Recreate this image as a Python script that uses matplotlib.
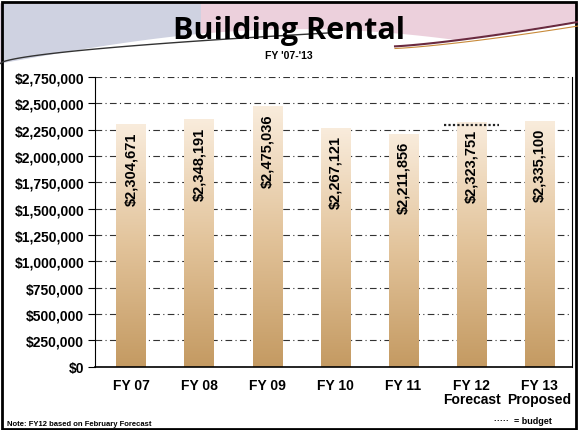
import matplotlib.pyplot as plt
import numpy as np
from matplotlib.patches import Rectangle
from matplotlib.colors import LinearSegmentedColormap

plt.rcParams['font.family'] = ['Liberation Sans', 'DejaVu Sans']

# Datos
years = ["FY 07", "FY 08", "FY 09", "FY 10", "FY 11", "FY 12\nForecast", "FY 13\nProposed"]
values = [2304671, 2348191, 2475036, 2267121, 2211856, 2323751, 2335100]
budget_fy12 = 2290000
yticks = np.arange(0, 2750001, 250000)

fig = plt.figure(figsize=(5.78, 4.31), dpi=100)

# fondo decorativo del título
bg = fig.add_axes([0, 0, 1, 1], zorder=-5)
bg.set_xlim(0, 1)
bg.set_ylim(0, 1)
bg.axis("off")
xs = np.linspace(0, 1, 200)
low_curve = 0.83 + 0.12 * xs ** 2
bg.fill_between(xs, low_curve, 0.99, color="#ecd0dc", lw=0)
bg.fill_between(xs[:70], low_curve[:70], 0.99, color="#c3d3e4", alpha=0.7, lw=0)
wave = 0.855 + 0.075 * np.sin(np.pi * (xs - 0.02))
bg.fill_between(xs, 0.82, wave, color="white", lw=0)
bg.plot(xs[:115], 0.85 + 0.10 * xs[:115] ** 0.6, color="#333333", lw=1)
bg.plot(xs[135:], 0.89 + 0.25 * (xs[135:] - 0.68) ** 1.3, color="#6a2a40", lw=1.5)
bg.plot(xs[135:], 0.885 + 0.23 * (xs[135:] - 0.68) ** 1.3, color="#c88a3a", lw=0.8)
bg.add_patch(Rectangle((0.003, 0.003), 0.994, 0.99, fill=False, ec="black", lw=2))

ax = fig.add_axes([0.165, 0.147, 0.825, 0.672])

# barras con degradado
width = 0.44
grad = np.linspace(0, 1, 256).reshape(-1, 1)
cmap = LinearSegmentedColormap.from_list("tan", ["#c49a62", "#e2c39a", "#f9ecdc"])
for i, v in enumerate(values):
    im = ax.imshow(grad, cmap=cmap, aspect="auto", origin="lower",
                   extent=[i - width / 2, i + width / 2, 0, v], zorder=2)
    r = Rectangle((i - width / 2, 0), width, v, transform=ax.transData)
    im.set_clip_path(r)
    ax.text(i, v - 70000, "${:,}".format(v), rotation=90, ha="center", va="top",
            fontsize=10.5, fontweight="bold", zorder=4)

ax.plot([5 - 0.4, 5 + 0.4], [budget_fy12, budget_fy12], ls=(0, (1, 1)), color="#222222", lw=1.6, zorder=5)

ax.set_xlim(-0.53, 6.48)
ax.set_ylim(0, 2750000)
ax.set_yticks(yticks)
ax.set_yticklabels(["${:,}".format(t) for t in yticks], fontsize=10, fontweight="bold")
ax.set_xticks(range(len(years)))
ax.set_xticklabels(years, fontsize=10, fontweight="bold", linespacing=1.0)
ax.tick_params(axis="x", length=0, pad=8)
ax.tick_params(axis="y", direction="out", length=5, pad=3)
ax.grid(axis="y", ls=(0, (6, 3, 1, 3)), color="#333333", lw=0.8, zorder=1)
ax.set_axisbelow(True)
ax.spines["top"].set_visible(False)
ax.spines["right"].set_linewidth(0.8)
ax.spines["bottom"].set_linewidth(1.2)
ax.patch.set_alpha(0)

fig.text(0.5, 0.928, "Building Rental", ha="center", va="center", fontsize=22,
         fontweight="bold", family=["Open Sans", "DejaVu Sans"])
fig.text(0.5, 0.87, "FY '07-'13", ha="center", va="center", fontsize=7.5, fontweight="bold")
fig.text(0.012, 0.008, "Note: FY12 based on February Forecast", ha="left", va="bottom",
         fontsize=5.5, fontweight="bold")
fig.text(0.955, 0.012, "\u00b7\u00b7\u00b7\u00b7\u00b7  = budget", ha="right", va="bottom",
         fontsize=6.5, fontweight="bold")

fig.savefig("out.png", dpi=100)
